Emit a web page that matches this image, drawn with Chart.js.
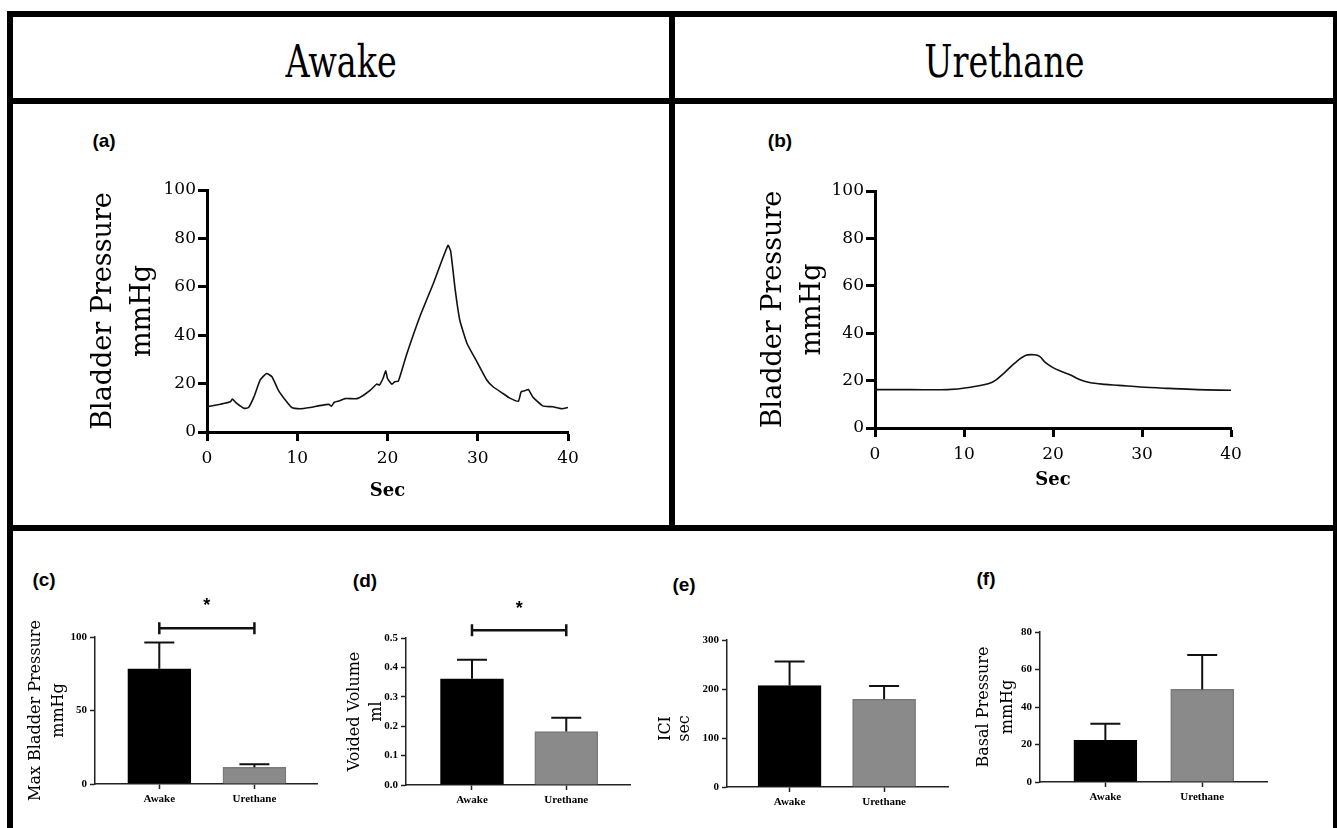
<!DOCTYPE html>
<html><head><meta charset="utf-8">
<script src="https://cdn.jsdelivr.net/npm/chart.js@4.4.1/dist/chart.umd.min.js"></script>
<style>
html,body{margin:0;padding:0;background:#fff;}
body{width:1337px;height:828px;position:relative;overflow:hidden;}
.ln{position:absolute;background:#000;}
.hdr{position:absolute;display:flex;align-items:center;justify-content:center;}
.hdr span{font-family:"DejaVu Serif",serif;font-size:44px;color:#000;display:inline-block;transform:scaleX(0.76);white-space:nowrap;}
.lab{position:absolute;font-family:"Liberation Sans",Arial,sans-serif;font-weight:bold;font-size:19px;color:#000;line-height:1;transform:translate(-50%,-50%);}
canvas{position:absolute;}
</style></head>
<body>
<div class="ln" style="left:7px;top:11px;width:1330px;height:6px"></div>
<div class="ln" style="left:7px;top:11px;width:6px;height:817px"></div>
<div class="ln" style="left:1333px;top:11px;width:4px;height:817px"></div>
<div class="ln" style="left:7px;top:98px;width:1330px;height:6px"></div>
<div class="ln" style="left:669px;top:11px;width:6px;height:520px"></div>
<div class="ln" style="left:7px;top:525px;width:1330px;height:6px"></div>
<div class="hdr" style="left:13px;top:21px;width:656px;height:81px"><span>Awake</span></div>
<div class="hdr" style="left:675px;top:21px;width:658px;height:81px"><span>Urethane</span></div>
<div class="lab" style="left:104px;top:140px">(a)</div>
<div class="lab" style="left:780px;top:140px">(b)</div>
<div class="lab" style="left:44px;top:579px">(c)</div>
<div class="lab" style="left:365px;top:580px">(d)</div>
<div class="lab" style="left:684px;top:584px">(e)</div>
<div class="lab" style="left:986px;top:578px">(f)</div>
<canvas id="ca"></canvas><canvas id="cb"></canvas>
<canvas id="cc"></canvas><canvas id="cd"></canvas><canvas id="ce"></canvas><canvas id="cf"></canvas>
<script>
// ---- data ----
const traceAwakeSec  = [0,1.5,2.6,2.8,3.3,4.1,4.6,5.2,5.9,6.6,7.2,7.9,8.7,9.4,10.3,11.4,12.5,13.5,13.8,14.1,14.7,15.3,16.6,17.3,18.1,18.8,19.1,19.5,19.8,20.0,20.5,20.8,21.2,22.1,23.6,25.1,26.7,27.0,27.5,28.0,28.8,29.9,31.0,31.7,32.8,33.5,34.5,34.8,35.2,35.6,36.1,37.2,38.3,39.3,40];
const traceAwakeMmHg = [10.4,11.5,12.5,13.6,11.8,9.8,10.1,14.5,21.5,24.2,22.8,17.3,13.1,10.1,9.6,10.1,10.9,11.4,10.7,12.3,12.9,13.8,13.8,15.1,17.3,19.8,19.4,22.1,25.3,22.1,19.7,20.8,21.0,31.8,47.8,61.6,77.1,74.7,58.8,46.4,36.7,29.1,21.5,18.7,15.9,14.1,12.7,16.6,17.0,17.6,14.5,10.8,10.4,9.6,10.1];
const traceUrethaneSec  = [0,4,8.1,10.5,13.1,14.5,15.7,16.9,17.9,18.5,19.1,19.9,20.9,21.9,22.9,24.1,25.8,27.4,29.8,33,36.2,40];
const traceUrethaneMmHg = [16.2,16.2,16.2,17.1,19.2,23.2,27.4,30.6,30.9,30.2,27.8,25.7,23.9,22.5,20.6,19.2,18.4,18.0,17.3,16.7,16.2,15.9];
const traceSecTicks = [0,10,20,30,40];
const tracePressureTicks = [0,20,40,60,80,100];

const groups = ['Awake','Urethane'];
const maxBladderPressure = [78.4, 11.4];
const maxBladderPressureSEM = [17.9, 2.0];
const voidedVolume = [0.361, 0.182];
const voidedVolumeSEM = [0.065, 0.047];
const iciSec = [207, 179];
const iciSecSEM = [49, 27];
const basalPressure = [22.2, 49.4];
const basalPressureSEM = [8.9, 18.3];
const maxPressureTicks = [0,50,100];
const voidedTicks = [0,0.1,0.2,0.3,0.4,0.5];
const iciTicks = [0,100,200,300];
const basalTicks = [0,20,40,60,80];

Chart.defaults.font.family = 'DejaVu Serif';
Chart.defaults.color = '#000';

function place(id, g){
  const c = document.getElementById(id);
  c.width = g.w; c.height = g.h;
  c.style.left = g.x + 'px'; c.style.top = g.y + 'px';
  c.style.width = g.w + 'px'; c.style.height = g.h + 'px';
  return c;
}

function traceChart(id, g, xs, ys, tension){
  const c = place(id, g);
  const lhY = 39, fsX = 18, lhX = fsX*1.2;
  new Chart(c, {
    type: 'line',
    data: {datasets: [{data: xs.map((x,i)=>({x:x, y:ys[i]})), borderColor:'#111', borderWidth:1.6, pointRadius:0, tension:tension, fill:false}]},
    options: {
      responsive:false, animation:false, devicePixelRatio:1,
      layout:{padding:{left:0, top:g.pT - g.y, right:g.x + g.w - g.pR, bottom:0}},
      plugins:{legend:{display:false}, tooltip:{enabled:false}},
      scales:{
        x:{type:'linear', min:0, max:40,
          afterBuildTicks: s => { s.ticks = traceSecTicks.map(v => ({value:v})); },
          afterFit: s => { s.height = g.y + g.h - g.pB; },
          ticks:{font:{size:17}, padding:7, maxRotation:0, autoSkip:false, color:'#000'},
          grid:{display:true, drawOnChartArea:false, drawTicks:true, tickLength:9, tickWidth:3, tickColor:'#000'},
          border:{display:true, color:'#000', width:3},
          title:{display:true, text:'Sec', font:{size:fsX, weight:'bold'}, color:'#000', padding:{top:0, bottom:(g.y + g.h) - g.secY - lhX/2}}
        },
        y:{min:0, max:100,
          afterBuildTicks: s => { s.ticks = tracePressureTicks.map(v => ({value:v})); },
          afterFit: s => { s.width = g.pL - g.x; },
          ticks:{font:{size:17}, padding:2, color:'#000'},
          grid:{display:true, drawOnChartArea:false, drawTicks:true, tickLength:9, tickWidth:3, tickColor:'#000'},
          border:{display:true, color:'#000', width:3},
          title:{display:true, text:['Bladder Pressure','mmHg'], font:{size:27, lineHeight:lhY/27}, color:'#000', padding:{top:g.titleX - g.x - lhY/2, bottom:0}}
        }
      }
    }
  });
}

function barChart(id, g, vals, errs, ticks, dec, titleLines, sig){
  const c = place(id, g);
  const overlay = {
    id: 'overlay' + id,
    afterDraw(chart){
      const ctx = chart.ctx, ys = chart.scales.y, ca = chart.chartArea;
      const meta = chart.getDatasetMeta(0);
      ctx.save();
      // error bars (upper SEM)
      ctx.strokeStyle = '#111'; ctx.lineWidth = 2;
      meta.data.forEach((bar, i) => {
        const x = bar.x, y0 = ys.getPixelForValue(vals[i]), y1 = ys.getPixelForValue(vals[i] + errs[i]);
        ctx.beginPath(); ctx.moveTo(x, y0); ctx.lineTo(x, y1);
        ctx.moveTo(x - 15, y1); ctx.lineTo(x + 15, y1); ctx.stroke();
      });
      // significance bracket
      if (sig){
        const x1 = meta.data[0].x, x2 = meta.data[1].x, yb = ys.getPixelForValue(sig.bar);
        ctx.lineWidth = 2.5; ctx.strokeStyle = '#111';
        ctx.beginPath(); ctx.moveTo(x1, yb); ctx.lineTo(x2, yb);
        ctx.moveTo(x1, yb - 6); ctx.lineTo(x1, yb + 6);
        ctx.moveTo(x2, yb - 6); ctx.lineTo(x2, yb + 6); ctx.stroke();
        ctx.fillStyle = '#000'; ctx.font = 'bold 18px "Liberation Sans"';
        ctx.textAlign = 'center'; ctx.textBaseline = 'middle';
        ctx.fillText('*', (x1 + x2)/2, ys.getPixelForValue(sig.star) + 3);
      }
      // y axis title (two lines, rotated)
      ctx.fillStyle = '#000'; ctx.font = '16px "DejaVu Serif"';
      ctx.textAlign = 'center'; ctx.textBaseline = 'middle';
      const yc = (ca.top + ca.bottom)/2 + (g.titleShift || 0);
      titleLines.forEach((t, i) => {
        ctx.save(); ctx.translate(g.titleX - g.x + i*g.titleLH, yc); ctx.rotate(-Math.PI/2);
        ctx.fillText(t, 0, 0); ctx.restore();
      });
      ctx.restore();
    }
  };
  new Chart(c, {
    type: 'bar',
    data: {datasets: [{data: vals.map((v,i)=>({x:i, y:v})),
      backgroundColor:['#000000','#8a8a8a'], borderColor:['#000000','#7a7a7a'], borderWidth:1.5,
      barThickness:63, grouped:false}]},
    options: {
      responsive:false, animation:false, devicePixelRatio:1,
      layout:{padding:{left:0, top:g.pT - g.y, right:g.x + g.w - g.pR, bottom:0}},
      plugins:{legend:{display:false}, tooltip:{enabled:false}},
      scales:{
        x:{type:'linear', min:g.xmin, max:g.xmax, offset:false,
          afterBuildTicks: s => { s.ticks = groups.map((_, i) => ({value:i})); },
          afterFit: s => { s.height = g.y + g.h - g.pB; },
          ticks:{callback: v => groups[v], font:{family:'Liberation Serif', size:11, weight:'bold'}, padding:4, maxRotation:0, autoSkip:false, color:'#000'},
          grid:{display:true, drawOnChartArea:false, drawTicks:true, tickLength:5, tickWidth:1.5, tickColor:'#222', offset:false},
          border:{display:true, color:'#222', width:1.5}
        },
        y:{min:0, max:ticks[ticks.length-1],
          afterBuildTicks: s => { s.ticks = ticks.map(v => ({value:v})); },
          afterFit: s => { s.width = g.pL - g.x; },
          ticks:{callback: v => Number(v).toFixed(dec), font:{family:'Liberation Serif', size:11, weight:'bold'}, padding:3, color:'#000'},
          grid:{display:true, drawOnChartArea:false, drawTicks:true, tickLength:5, tickWidth:1.5, tickColor:'#222'},
          border:{display:true, color:'#222', width:1.5}
        }
      }
    },
    plugins:[overlay]
  });
}

traceChart('ca', {x:60, y:150, w:540, h:370, pL:207, pT:190, pR:568, pB:432, titleX:104, secY:491}, traceAwakeSec, traceAwakeMmHg, 0.15);
traceChart('cb', {x:730, y:150, w:540, h:370, pL:875, pT:191, pR:1231, pB:428, titleX:773.5, secY:480}, traceUrethaneSec, traceUrethaneMmHg, 0.35);

barChart('cc', {x:15, y:585, w:320, h:240, pL:95, pT:637, pR:317, pB:784, xmin:-0.676, xmax:1.658, titleX:36, titleLH:23}, maxBladderPressure, maxBladderPressureSEM, maxPressureTicks, 0, ['Max Bladder Pressure','mmHg'], {bar:106, star:123});
barChart('cd', {x:330, y:585, w:320, h:240, pL:406, pT:638, pR:630, pB:785, xmin:-0.70, xmax:1.676, titleX:354.5, titleLH:22}, voidedVolume, voidedVolumeSEM, voidedTicks, 1, ['Voided Volume','ml'], {bar:0.526, star:0.608});
barChart('ce', {x:650, y:585, w:320, h:240, pL:727, pT:640, pR:948, pB:787, xmin:-0.662, xmax:1.676, titleX:666, titleLH:19, titleShift:15}, iciSec, iciSecSEM, iciTicks, 0, ['ICI','sec'], null);
barChart('cf', {x:965, y:585, w:320, h:240, pL:1040, pT:632, pR:1267, pB:782, xmin:-0.675, xmax:1.669, titleX:983.5, titleLH:24}, basalPressure, basalPressureSEM, basalTicks, 0, ['Basal Pressure','mmHg'], null);
</script>
</body></html>
